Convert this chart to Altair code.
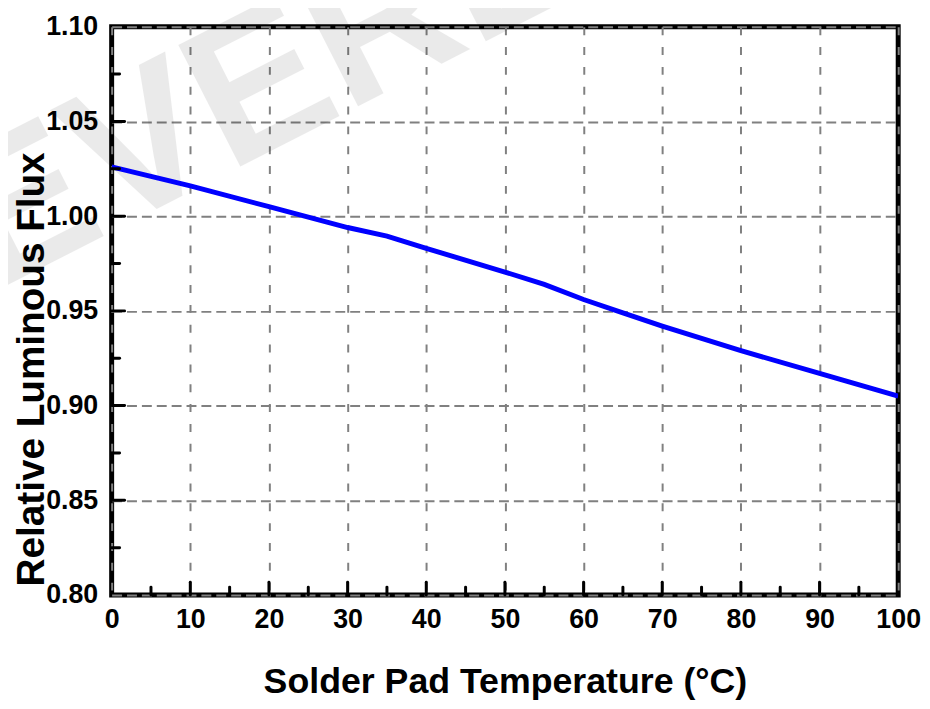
import altair as alt
import pandas as pd

# Data
temps = [0, 10, 20, 30, 35, 40, 50, 55, 60, 65, 70, 75, 80, 90, 100]
flux = [1.026, 1.016, 1.005, 0.994, 0.9895, 0.983, 0.9705, 0.964, 0.956,
        0.949, 0.942, 0.9355, 0.929, 0.917, 0.905]

x_ticks = [0, 10, 20, 30, 40, 50, 60, 70, 80, 90, 100]
y_ticks = [0.80, 0.85, 0.90, 0.95, 1.00, 1.05, 1.10]
x_major_inner = [10, 20, 30, 40, 50, 60, 70, 80, 90]
x_minor = [5, 15, 25, 35, 45, 55, 65, 75, 85, 95]
y_major_inner = [0.85, 0.90, 0.95, 1.00, 1.05]
y_minor = [0.825, 0.875, 0.925, 0.975, 1.025, 1.075]
watermark = ["EVERLIGHT"]

W, H = 793, 573
FONT = "Liberation Sans"

xscale = alt.Scale(domain=[0, 100], nice=False, zero=False)
yscale = alt.Scale(domain=[0.80, 1.10], nice=False, zero=False)

xaxis = alt.Axis(values=x_ticks, title="Solder Pad Temperature (°C)",
                 grid=True, gridColor="#808080", gridWidth=2,
                 gridDash=[8, 12], domain=False, ticks=False,
                 labelFont=FONT, labelFontWeight="bold",
                 labelFontSize=27, labelColor="black",
                 labelPadding=12, labelFlush=False,
                 titleFont=FONT, titleFontWeight="bold",
                 titleFontSize=36, titleColor="black",
                 titleBaseline="alphabetic", titleY=98)
yaxis = alt.Axis(values=y_ticks, format=".2f",
                 title="Relative Luminous Flux",
                 grid=True, gridColor="#808080", gridWidth=2,
                 gridDash=[10, 5], domain=False, ticks=False,
                 labelFont=FONT, labelFontWeight="bold",
                 labelFontSize=27, labelColor="black",
                 labelPadding=14, labelFlush=False,
                 titleFont=FONT, titleFontWeight="bold",
                 titleFontSize=39, titleColor="black",
                 titleBaseline="alphabetic", titleAngle=270,
                 titleX=-69, titleY=345)

df = pd.DataFrame({"T": temps, "F": flux})

wm = alt.Chart(pd.DataFrame({"w": watermark})).mark_text(
    font=FONT, fontWeight="bold", fontSize=200, color="black", opacity=0.08,
    align="left", baseline="alphabetic", angle=333,
).encode(text="w:N", x=alt.value(-120), y=alt.value(268))

line = alt.Chart(df).mark_line(color="#0000ff", strokeWidth=5, clip=True).encode(
    x=alt.X("T:Q", scale=xscale, axis=xaxis),
    y=alt.Y("F:Q", scale=yscale, axis=yaxis),
)

tick_style = dict(color="black", strokeWidth=3, strokeCap="round")

xmaj = alt.Chart(pd.DataFrame({"T": x_major_inner})).mark_rule(**tick_style).encode(
    x=alt.X("T:Q", scale=xscale, axis=xaxis),
    y=alt.value(H), y2=alt.value(H - 13))
xmin = alt.Chart(pd.DataFrame({"T": x_minor})).mark_rule(**tick_style).encode(
    x=alt.X("T:Q", scale=xscale, axis=xaxis),
    y=alt.value(H), y2=alt.value(H - 8))
ymaj = alt.Chart(pd.DataFrame({"F": y_major_inner})).mark_rule(**tick_style).encode(
    y=alt.Y("F:Q", scale=yscale, axis=yaxis),
    x=alt.value(0), x2=alt.value(13))
ymin = alt.Chart(pd.DataFrame({"F": y_minor})).mark_rule(**tick_style).encode(
    y=alt.Y("F:Q", scale=yscale, axis=yaxis),
    x=alt.value(0), x2=alt.value(8))

chart = alt.layer(wm, line, xmaj, xmin, ymaj, ymin).properties(
    width=W, height=H,
    autosize=alt.AutoSizeParams(type="none"),
    padding={"left": 104.5, "top": 16, "right": 24, "bottom": 110},
    background="white",
).configure_view(stroke="black", strokeWidth=5)

chart.save("out.html", embed_options={"renderer": "svg", "actions": False})
